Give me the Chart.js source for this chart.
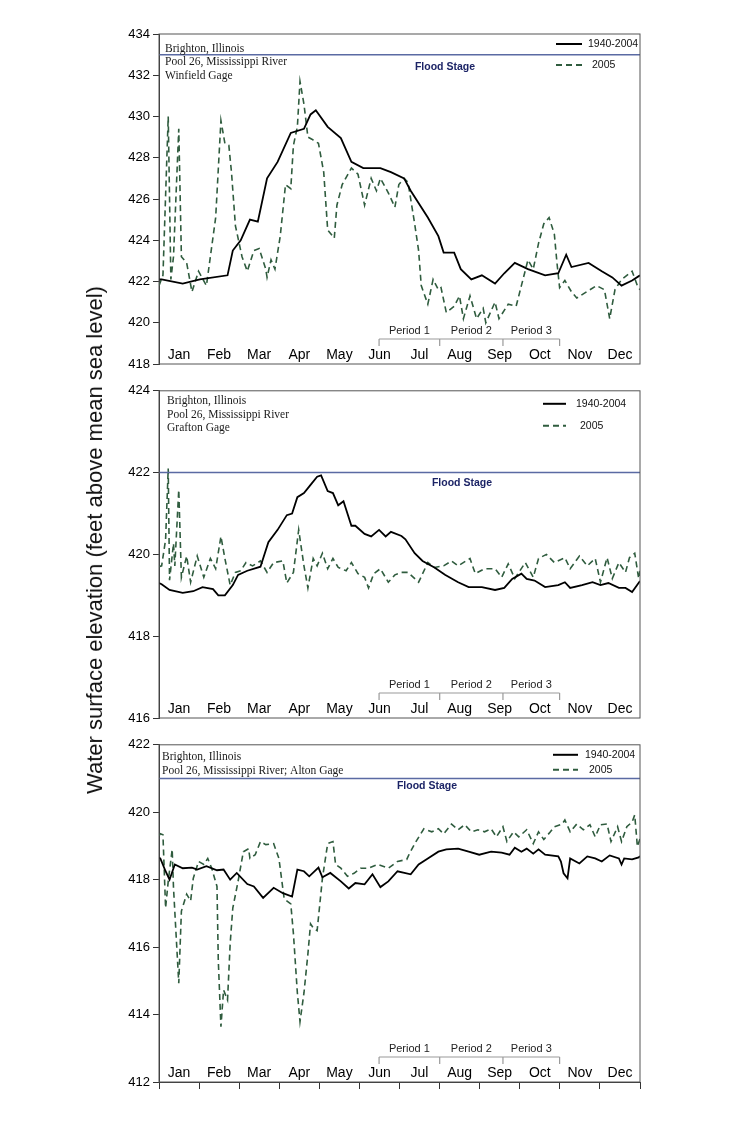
<!DOCTYPE html>
<html lang="en">
<head>
<meta charset="UTF-8">
<title>Pool 26 water surface elevation</title>
<script src="https://cdn.jsdelivr.net/npm/chart.js"></script>
<style>
  body { margin: 0; background: #fff; }
  #wrap { position: relative; width: 740px; height: 1144px; }
  canvas { position: absolute; left: 0; }
  #ytitle {
    position: absolute; left: 95px; top: 540px;
    transform: translate(-50%, -50%) rotate(-90deg);
    font: 22px "Liberation Sans", Arial, sans-serif;
    white-space: nowrap; color: #111;
  }
</style>
</head>
<body>
<div id="wrap">
  <canvas id="winfield" width="740" height="384" style="top:0px"></canvas>
  <canvas id="grafton" width="740" height="356" style="top:380px"></canvas>
  <canvas id="alton" width="740" height="410" style="top:734px"></canvas>
  <div id="ytitle">Water surface elevation (feet above mean sea level)</div>
</div>

<script>
// x axis is day of year, months drawn as 12 equal slices
const months = ['Jan', 'Feb', 'Mar', 'Apr', 'May', 'Jun', 'Jul', 'Aug', 'Sep', 'Oct', 'Nov', 'Dec'];
const monthEdges = [0, 30.4, 60.8, 91.3, 121.7, 152.1, 182.5, 212.9, 243.3, 273.8, 304.2, 334.6, 365];
const monthMids = [15.2, 45.6, 76.0, 106.5, 136.9, 167.3, 197.7, 228.1, 258.5, 289.0, 319.4, 349.8];
const periodNames = ['Period 1', 'Period 2', 'Period 3'];
const periodEdges = [167, 213, 261, 304];

// [day, elevation ft]
const winfieldMean = [[0,422.1],[2,422.1],[18,421.9],[31,422.1],[52,422.3],[56,423.5],[62,424.0],[69,425.0],[75,424.9],[82,427.0],[90,427.8],[100,429.2],[110,429.4],[115,430.1],[119,430.3],[128,429.5],[138,428.95],[146,427.8],[155,427.5],[168,427.5],[176,427.3],[186,427.0],[191,426.4],[204,425.1],[212,424.2],[216,423.4],[224,423.4],[229,422.6],[237,422.1],[245,422.3],[255,421.9],[262,422.4],[270,422.9],[280,422.6],[293,422.3],[303,422.4],[309,423.3],[313,422.7],[326,422.9],[336,422.5],[344,422.2],[351,421.8],[359,422.05],[365,422.3]];
const winfield2005 = [[0,421.8],[3,422.3],[7,430.0],[9,422.1],[11,423.2],[15,429.4],[17,423.2],[21,422.9],[25,421.5],[30,422.5],[36,421.8],[43,425.1],[47,429.8],[50,428.7],[53,428.6],[55,427.3],[58,424.7],[63,423.2],[67,422.5],[72,423.5],[76,423.6],[81,422.6],[82,422.2],[85,423.05],[88,422.6],[92,424.2],[96,426.7],[100,426.5],[102,428.6],[105,429.5],[107,431.7],[110,430.6],[113,429.0],[116,428.9],[121,428.7],[125,427.3],[128,424.5],[133,424.1],[135,425.7],[139,426.7],[146,427.5],[151,427.2],[156,425.7],[161,427.0],[165,426.4],[168,427.0],[174,426.3],[179,425.6],[182,426.7],[186,427.0],[189,426.8],[194,424.8],[197,423.5],[199,421.8],[204,420.9],[208,422.1],[212,421.6],[214,421.7],[218,420.5],[224,420.8],[228,421.3],[231,420.2],[236,421.3],[241,420.2],[246,420.7],[248,420.0],[255,421.0],[258,420.2],[265,420.9],[271,420.8],[275,421.8],[280,423.05],[284,422.6],[288,423.85],[292,424.8],[296,425.1],[300,424.3],[302,422.9],[304,421.7],[308,422.05],[313,421.5],[317,421.2],[322,421.4],[327,421.6],[332,421.8],[338,421.6],[342,420.2],[346,421.6],[351,422.1],[359,422.5],[363,421.8],[365,421.6]];

const graftonMean = [[0,419.3],[2,419.27],[8,419.13],[18,419.06],[26,419.1],[33,419.2],[41,419.15],[45,419.0],[50,419.0],[56,419.25],[60,419.5],[67,419.6],[77,419.7],[83,420.3],[90,420.6],[97,420.96],[101,421.0],[105,421.4],[110,421.5],[115,421.7],[120,421.9],[123,421.93],[128,421.55],[132,421.5],[136,421.2],[140,421.3],[146,420.7],[149,420.7],[156,420.5],[161,420.44],[167,420.6],[172,420.44],[176,420.55],[184,420.45],[187,420.37],[194,420.03],[200,419.84],[209,419.68],[217,419.5],[227,419.32],[235,419.2],[245,419.2],[255,419.13],[262,419.18],[268,419.4],[275,419.53],[279,419.4],[285,419.36],[293,419.2],[303,419.25],[308,419.32],[312,419.18],[321,419.25],[329,419.32],[335,419.25],[341,419.3],[349,419.18],[354,419.18],[359,419.08],[365,419.35]];
const grafton2005 = [[0,419.7],[2,419.72],[5,420.36],[7,422.1],[8,419.37],[11,420.27],[12,419.72],[15,421.58],[17,419.44],[21,419.96],[24,419.32],[29,419.96],[34,419.44],[39,419.9],[43,419.65],[47,420.44],[50,419.9],[54,419.25],[58,419.56],[62,419.6],[66,419.8],[71,419.72],[77,419.84],[82,419.56],[87,419.8],[94,419.84],[97,419.3],[102,419.56],[106,420.6],[110,419.72],[113,419.18],[117,419.9],[120,419.72],[124,420.03],[128,419.65],[132,419.9],[136,419.68],[142,419.6],[146,419.8],[151,419.53],[156,419.44],[159,419.18],[163,419.53],[168,419.65],[174,419.32],[179,419.5],[184,419.56],[189,419.56],[197,419.32],[204,419.8],[209,419.68],[216,419.72],[222,419.84],[227,419.72],[236,419.9],[240,419.53],[247,419.65],[255,419.65],[260,419.44],[265,419.77],[270,419.41],[278,419.8],[284,419.44],[288,419.9],[294,420.0],[300,419.8],[308,419.92],[312,419.65],[319,419.96],[325,419.72],[331,419.9],[335,419.32],[340,419.92],[344,419.41],[349,419.8],[354,419.56],[357,419.92],[361,420.03],[364,419.41],[365,419.6]];

const altonMean = [[0,418.65],[1,418.63],[5,418.25],[8,418.0],[12,418.45],[18,418.34],[25,418.36],[29,418.3],[36,418.4],[44,418.28],[49,418.3],[54,418.0],[59,418.2],[67,417.87],[72,417.8],[79,417.46],[87,417.76],[94,417.6],[101,417.5],[105,418.3],[110,418.25],[114,418.1],[121,418.36],[124,418.07],[130,418.2],[138,417.95],[144,417.74],[149,417.9],[156,417.86],[162,418.16],[168,417.78],[174,417.95],[181,418.25],[191,418.16],[197,418.45],[204,418.63],[212,418.83],[218,418.9],[227,418.92],[235,418.83],[243,418.74],[252,418.83],[260,418.8],[266,418.74],[270,418.95],[275,418.83],[279,418.92],[284,418.77],[288,418.9],[293,418.74],[303,418.69],[305,418.54],[307,418.19],[310,418.04],[312,418.63],[319,418.48],[325,418.69],[331,418.63],[336,418.54],[342,418.72],[349,418.63],[351,418.45],[353,418.63],[359,418.6],[364,418.66],[365,418.7]];
const alton2005 = [[0,419.3],[1,419.36],[3,419.33],[5,417.16],[7,417.95],[10,418.9],[11,417.76],[15,414.93],[17,417.07],[21,417.57],[24,417.37],[26,418.04],[30,418.54],[34,418.45],[37,418.63],[40,418.34],[44,417.8],[45,415.6],[47,413.64],[49,414.73],[52,414.43],[54,416.1],[56,417.16],[60,417.95],[64,418.83],[68,418.92],[69,418.63],[73,418.74],[77,419.13],[81,419.04],[87,419.07],[91,418.63],[95,417.43],[100,417.28],[102,416.4],[105,414.64],[107,413.79],[110,414.64],[113,415.8],[115,416.69],[117,416.57],[120,416.49],[124,418.04],[128,419.07],[132,419.13],[134,418.45],[138,418.34],[143,418.1],[148,418.19],[153,418.34],[159,418.34],[166,418.45],[174,418.34],[181,418.54],[188,418.6],[190,418.77],[195,419.13],[201,419.51],[207,419.42],[212,419.51],[216,419.36],[222,419.65],[227,419.48],[232,419.63],[237,419.42],[242,419.48],[247,419.42],[252,419.51],[256,419.27],[261,419.57],[264,419.13],[269,419.42],[273,419.27],[279,419.48],[284,419.07],[288,419.42],[292,419.19],[297,419.42],[300,419.57],[306,419.65],[308,419.77],[312,419.42],[317,419.65],[322,419.48],[327,419.63],[331,419.27],[335,419.63],[340,419.65],[343,419.13],[348,419.57],[351,419.13],[355,419.57],[359,419.71],[361,419.92],[363,418.98],[365,419.21]];

const GREEN = '#2f5c3e';
const FLOOD = '#5a6aa3';

function toPoints(rows) {
  return rows.map(r => ({ x: r[0], y: r[1] }));
}

// frame, site text, flood label, month names, period brackets, legend
const panelDecor = {
  id: 'panelDecor',
  afterDatasetsDraw(chart, args, o) {
    const { ctx, chartArea: a, scales: { x, y } } = chart;
    ctx.save();
    ctx.strokeStyle = '#555';
    ctx.lineWidth = 1;
    ctx.strokeRect(a.left, a.top, a.right - a.left, a.bottom - a.top);

    ctx.textBaseline = 'middle';
    ctx.textAlign = 'left';
    ctx.fillStyle = '#1a1a1a';
    ctx.font = '11.5px "Liberation Serif", "Times New Roman", serif';
    o.site.forEach((t, i) => ctx.fillText(t, a.left + o.siteX, a.top + o.siteY + i * o.siteDy));

    ctx.textAlign = 'center';
    ctx.fillStyle = '#1c2466';
    ctx.font = 'bold 10.5px "Liberation Sans", Arial, sans-serif';
    ctx.fillText('Flood Stage', o.floodX, y.getPixelForValue(o.flood) + o.floodDy);

    ctx.fillStyle = '#000';
    ctx.font = '14px "Liberation Sans", Arial, sans-serif';
    months.forEach((m, i) => ctx.fillText(m, x.getPixelForValue(monthMids[i]), a.bottom - 9));

    // period brackets
    ctx.strokeStyle = '#9a9a9a';
    ctx.lineWidth = 1.2;
    const by = a.bottom - 25;
    const px = periodEdges.map(d => x.getPixelForValue(d));
    ctx.beginPath();
    ctx.moveTo(px[0], by);
    ctx.lineTo(px[px.length - 1], by);
    px.forEach(p => { ctx.moveTo(p, by); ctx.lineTo(p, by + 7); });
    ctx.stroke();
    ctx.fillStyle = '#222';
    ctx.font = '11px "Liberation Sans", Arial, sans-serif';
    periodNames.forEach((n, i) => ctx.fillText(n, (px[i] + px[i + 1]) / 2, a.bottom - 33));

    // legend
    const L = o.legend;
    ctx.font = '10.5px "Liberation Sans", Arial, sans-serif';
    ctx.textAlign = 'left';
    chart.data.datasets.filter(d => d.label !== 'flood').forEach((d, i) => {
      const ly = a.top + L.y[i];
      ctx.strokeStyle = d.borderColor;
      ctx.lineWidth = 2;
      ctx.setLineDash(d.borderDash || []);
      ctx.beginPath();
      ctx.moveTo(L.x0, ly);
      ctx.lineTo(L.x1, ly);
      ctx.stroke();
      ctx.setLineDash([]);
      ctx.fillStyle = '#111';
      ctx.fillText(d.label, L.tx[i], ly);
    });
    ctx.restore();
  }
};

function makePanel(id, p) {
  const ctx = document.getElementById(id).getContext('2d');
  return new Chart(ctx, {
    type: 'line',
    data: {
      datasets: [
        { label: 'flood', data: [{ x: 0, y: p.flood }, { x: 365, y: p.flood }],
          borderColor: FLOOD, borderWidth: 1.5, pointRadius: 0 },
        { label: '1940-2004', data: toPoints(p.mean),
          borderColor: '#000', borderWidth: 1.8, pointRadius: 0 },
        { label: '2005', data: toPoints(p.y2005),
          borderColor: GREEN, borderWidth: 1.6, borderDash: [6, 4], pointRadius: 0 }
      ]
    },
    options: {
      responsive: false,
      animation: false,
      layout: { padding: { left: 119, right: 100, top: p.padTop, bottom: p.padBottom } },
      plugins: {
        legend: { display: false },
        tooltip: { enabled: false },
        panelDecor: p.decor
      },
      scales: {
        x: {
          type: 'linear', min: 0, max: 365,
          display: p.xTicks,
          afterBuildTicks: s => { s.ticks = monthEdges.map(v => ({ value: v })); },
          afterFit: s => { s.height = 10; },
          ticks: { display: false },
          grid: { drawOnChartArea: false, tickLength: 7, color: '#333' },
          border: { color: '#333' }
        },
        y: {
          min: p.yMin, max: p.yMax,
          afterFit: s => { s.width = 40; },
          ticks: { stepSize: 2, autoSkip: false, padding: 3, color: '#000',
                   font: { family: '"Liberation Sans", Arial, sans-serif', size: 13 } },
          grid: { drawOnChartArea: false, tickLength: 6, color: '#333' },
          border: { color: '#333' }
        }
      }
    },
    plugins: [panelDecor]
  });
}

makePanel('winfield', {
  mean: winfieldMean, y2005: winfield2005, flood: 433,
  yMin: 418, yMax: 434, padTop: 34, padBottom: 10, xTicks: false,
  decor: {
    site: ['Brighton, Illinois', 'Pool 26, Mississippi River', 'Winfield Gage'],
    siteX: 6, siteY: 15, siteDy: 13.3,
    flood: 433, floodX: 445, floodDy: 12,
    legend: { x0: 556, x1: 582, y: [10, 31], tx: [588, 592] }
  }
});

makePanel('grafton', {
  mean: graftonMean, y2005: grafton2005, flood: 422,
  yMin: 416, yMax: 424, padTop: 8, padBottom: 8, xTicks: false,
  decor: {
    site: ['Brighton, Illinois', 'Pool 26, Mississippi River', 'Grafton Gage'],
    siteX: 8, siteY: 10, siteDy: 13.8,
    flood: 422, floodX: 462, floodDy: 11,
    legend: { x0: 543, x1: 566, y: [13, 35], tx: [576, 580] }
  }
});

makePanel('alton', {
  mean: altonMean, y2005: alton2005, flood: 421,
  yMin: 412, yMax: 422, padTop: 8, padBottom: 52, xTicks: true,
  decor: {
    site: ['Brighton, Illinois', 'Pool 26, Mississippi River; Alton Gage'],
    siteX: 3, siteY: 12, siteDy: 14.2,
    flood: 421, floodX: 427, floodDy: 8,
    legend: { x0: 553, x1: 578, y: [10, 25], tx: [585, 589] }
  }
});
</script>
</body>
</html>
